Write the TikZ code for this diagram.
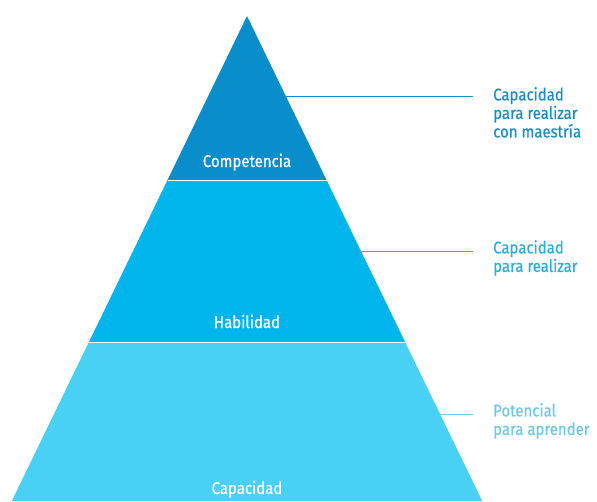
\documentclass[tikz,border=0pt]{standalone}
\usepackage{fontspec}
\setmainfont[FakeStretch=0.88,FakeBold=0.6]{Fira Sans}
\definecolor{cTop}{HTML}{0A8DCB}
\definecolor{cMid}{HTML}{00B4EC}
\definecolor{cBot}{HTML}{48D0F5}
\definecolor{tTop}{HTML}{1A8DC8}
\definecolor{tMid}{HTML}{2AAEDD}
\definecolor{tBot}{HTML}{70C8E2}
\begin{document}
\begin{tikzpicture}[x=1pt,y=-1pt,
  lvl/.style={text=white,font=\fontsize{17}{19}\selectfont,anchor=base,inner sep=0pt},
  side/.style={anchor=north west,align=left,font=\fontsize{17}{18.5}\selectfont,inner sep=0pt},
  lead/.style={line width=1pt}]
\useasboundingbox (0,0) rectangle (597,501);
% apex (247,16); half-width slope 0.485
\coordinate (apex) at (247,16);
\coordinate (l1) at (167.5,180); \coordinate (r1) at (326.5,180);
\coordinate (l2) at (88.9,342); \coordinate (r2) at (405.1,342);
\coordinate (l3) at (11.8,501); \coordinate (r3) at (482.2,501);
\fill[cBot] (l2) -- (r2) -- (r3) -- (l3) -- cycle;
\fill[cMid] (l1) -- (r1) -- (r2) -- (l2) -- cycle;
\fill[cTop] (apex) -- (r1) -- (l1) -- cycle;
\draw[white,line width=1pt] (l1) -- (r1);
\draw[white,line width=1pt] (l2) -- (r2);
\node[lvl] (comp) at (247,167) {Competencia};
\node[lvl] (hab) at (247,328) {Habilidad};
\node[lvl] (cap) at (247,494) {Capacidad};
% leaders
\coordinate (e1) at (286,96); \coordinate (f1) at (473,96);
\coordinate (e2) at (361,251); \coordinate (f2) at (473,251);
\coordinate (e3) at (440,414); \coordinate (f3) at (473,414);
\draw[lead,tTop] (e1) -- (f1);
\draw[lead,tMid] (e2) -- (f2);
\draw[lead,tBot] (e3) -- (f3);
\node[side,text=tTop] (t1) at (493,87) {Capacidad\\para realizar\\con maestría};
\node[side,text=tMid] (t2) at (493,240) {Capacidad\\para realizar};
\node[side,text=tBot] (t3) at (493,403) {Potencial\\para aprender};
\end{tikzpicture}
\end{document}
